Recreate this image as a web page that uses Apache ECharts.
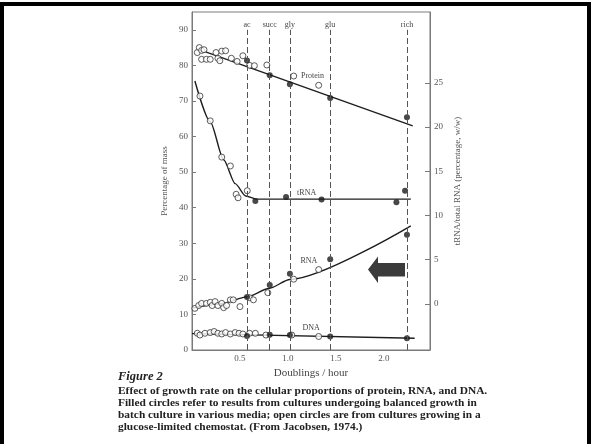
<!DOCTYPE html>
<html>
<head>
<meta charset="utf-8">
<script src="https://cdn.jsdelivr.net/npm/echarts@6/dist/echarts.min.js"></script>
<style>
  html, body { margin: 0; padding: 0; background: #fff; }
  #chart { width: 592px; height: 444px; }
</style>
</head>
<body>
<div id="chart"></div>
<script>
// growth media (dashed lines) and their doubling rates
const media = ['ac', 'succ', 'gly', 'glu', 'rich'];
const mediaRate = [0.573, 0.81, 1.02, 1.44, 2.24];

// axis tick values
const xTicks = [0.5, 1.0, 1.5, 2.0];
const leftTicks = [0, 10, 20, 30, 40, 50, 60, 70, 80, 90];
const rightTicks = [0, 5, 10, 15, 20, 25];

// protein, % of mass
const proteinOpen = [[0.055, 83.6], [0.076, 85.0], [0.10, 84.2], [0.125, 84.4], [0.10, 81.7], [0.15, 81.7],
  [0.19, 81.7], [0.25, 83.6], [0.27, 82.0], [0.29, 81.3], [0.31, 84.0], [0.35, 84.1], [0.41, 82.0],
  [0.47, 81.1], [0.53, 82.7], [0.60, 80.0], [0.65, 79.9], [0.78, 80.1], [1.06, 77.0], [1.32, 74.4]];
const proteinFilled = [81.4, 77.2, 74.7, 70.8, 65.4];
const proteinFit = [[0.12, 84.0], [2.30, 63.0]];

// tRNA / total RNA, % (right axis)
const trnaOpen = [[0.083, 23.5], [0.19, 20.7], [0.31, 16.6], [0.40, 15.6], [0.46, 12.4], [0.48, 12.0], [0.576, 12.8]];
const trnaFilled = [[0.66, 11.65], [0.98, 12.1], [1.35, 11.8], [2.13, 11.5], [2.22, 12.8]];
const trnaFit = [[0.03, 25.2], [0.19, 20.6], [0.33, 16.3], [0.45, 13.6], [0.56, 12.2], [0.68, 11.85],
  [1.2, 11.85], [2.28, 11.85]];

// RNA, % of mass
const rnaOpen = [[0.03, 11.7], [0.07, 12.5], [0.10, 13.1], [0.15, 13.1], [0.19, 13.4], [0.21, 12.5], [0.24, 13.6],
  [0.27, 12.5], [0.31, 13.1], [0.33, 11.9], [0.36, 12.5], [0.40, 14.1], [0.43, 14.1], [0.50, 12.2],
  [0.60, 14.7], [0.64, 14.1], [0.79, 16.1], [1.06, 19.9], [1.32, 22.6]];
const rnaFilled = [14.9, 18.3, 21.4, 25.5, 32.4];
const rnaFit = [[0.0, 11.8], [0.3, 13.0], [0.58, 15.0], [0.8, 17.3], [1.02, 19.8], [2.28, 34.9]];

// DNA, % of mass
const dnaOpen = [[0.055, 4.7], [0.083, 4.2], [0.135, 4.7], [0.19, 4.9], [0.23, 5.2], [0.27, 4.7], [0.31, 4.5],
  [0.35, 4.9], [0.40, 4.5], [0.45, 4.9], [0.49, 4.7], [0.53, 4.5], [0.60, 4.7], [0.66, 4.7], [0.77, 4.2],
  [1.04, 4.2], [1.32, 3.8]];
const dnaFilled = [3.9, 4.3, 4.2, 3.8, 3.3];
const dnaFit = [[0.0, 4.6], [2.32, 3.3]];

const caption = [
  'Effect of growth rate on the cellular proportions of protein, RNA, and DNA.',
  'Filled circles refer to results from cultures undergoing balanced growth in',
  'batch culture in various media; open circles are from cultures growing in a',
  'glucose-limited chemostat. (From Jacobsen, 1974.)'
];

const serif = 'Liberation Serif';
const ink = '#1e1e1e';
const axisGray = '#7a7a7a';
const textGray = '#555';

const withRate = vals => vals.map((v, i) => [mediaRate[i], v]);

const openStyle = { color: '#fff', borderColor: '#333', borderWidth: 1 };
const filledStyle = { color: '#1a1a1a' };

function fitLine(data, yAxisIndex, label, at) {
  return {
    type: 'line', data: data, yAxisIndex: yAxisIndex, symbol: 'none', smooth: 0.25, smoothMonotone: 'x',
    lineStyle: { color: ink, width: 1.4 }, silent: true, z: 3,
    markPoint: {
      symbol: 'circle', symbolSize: 1, itemStyle: { color: 'rgba(0,0,0,0)' },
      label: { show: true, position: 'right', distance: 0, formatter: label,
        fontFamily: serif, fontSize: 8, color: '#444' },
      data: [{ coord: at }]
    }
  };
}

function dots(data, yAxisIndex, style) {
  return { type: 'scatter', data: data, yAxisIndex: yAxisIndex, symbol: 'circle', symbolSize: 6,
    itemStyle: style, z: 4, silent: true };
}

const chart = echarts.init(document.getElementById('chart'));

chart.setOption({
  animation: false,
  backgroundColor: '#fff',
  grid: { left: 192, top: 12, width: 238, height: 338, show: true, borderColor: axisGray, borderWidth: 1 },
  xAxis: {
    type: 'value', min: 0, max: 2.48,
    name: 'Doublings / hour', nameLocation: 'middle', nameGap: 12,
    nameTextStyle: { fontFamily: serif, fontSize: 11, color: '#444' },
    axisLine: { lineStyle: { color: axisGray } },
    axisTick: { show: false },
    splitLine: { show: false },
    axisLabel: { customValues: xTicks, formatter: v => v.toFixed(1), margin: 4,
      fontFamily: serif, fontSize: 9, color: textGray }
  },
  yAxis: [
    {
      type: 'value', min: 0, max: 95,
      name: 'Percentage of mass', nameLocation: 'middle', nameGap: 23, nameRotate: 90,
      nameTextStyle: { fontFamily: serif, fontSize: 9, color: textGray },
      axisLine: { show: true, lineStyle: { color: axisGray } },
      axisTick: { show: true, inside: true, length: 4, customValues: leftTicks, lineStyle: { color: axisGray } },
      splitLine: { show: false },
      axisLabel: { customValues: leftTicks, margin: 4, fontFamily: serif, fontSize: 9, color: textGray }
    },
    {
      type: 'value', position: 'right', min: -5.2, max: 33,
      name: 'tRNA/total RNA (percentage, w/w)', nameLocation: 'middle', nameGap: 23, nameRotate: 90,
      nameTextStyle: { fontFamily: serif, fontSize: 9, color: textGray },
      axisLine: { show: true, lineStyle: { color: axisGray } },
      axisTick: { show: true, inside: true, length: 5, customValues: rightTicks, lineStyle: { color: axisGray } },
      splitLine: { show: false },
      axisLabel: { customValues: rightTicks, margin: 4, fontFamily: serif, fontSize: 9, color: textGray }
    }
  ],
  series: [
    {
      type: 'line', data: [], silent: true,
      markLine: {
        silent: true, symbol: ['none', 'none'],
        lineStyle: { color: '#555', width: 1, type: [6, 3] },
        label: { show: true, position: 'end', distance: 1, formatter: '{b}',
          fontFamily: serif, fontSize: 8, color: '#444' },
        data: media.map((m, i) => [{ name: m, coord: [mediaRate[i], 0] }, { coord: [mediaRate[i], 90] }])
      }
    },
    fitLine(proteinFit, 0, 'Protein', [1.13, 77.0]),
    fitLine(trnaFit, 1, 'tRNA', [1.09, 12.6]),
    fitLine(rnaFit, 0, 'RNA', [1.125, 25.1]),
    fitLine(dnaFit, 0, 'DNA', [1.145, 6.3]),
    dots(proteinOpen, 0, openStyle),
    dots(withRate(proteinFilled), 0, filledStyle),
    dots(trnaOpen, 1, openStyle),
    dots(trnaFilled, 1, filledStyle),
    dots(rnaOpen, 0, openStyle),
    dots(withRate(rnaFilled), 0, filledStyle),
    dots(dnaOpen, 0, openStyle),
    dots(withRate(dnaFilled), 0, filledStyle)
  ],
  graphic: [
    // slide frame
    { type: 'rect', shape: { x: 2, y: 4, width: 587, height: 460 },
      style: { fill: null, stroke: '#000', lineWidth: 4 }, silent: true },
    // pointer arrow
    { type: 'polygon', silent: true, z: 10,
      shape: { points: [[368, 269.5], [378, 256.5], [378, 263], [405, 263], [405, 276.5], [378, 276.5], [378, 283]] },
      style: { fill: '#3b3b3b' } },
    { type: 'text', left: 118, top: 370,
      style: { text: 'Figure 2', fontFamily: serif, fontStyle: 'italic', fontWeight: 'bold', fontSize: 12.5, fill: '#222' } }
  ].concat(caption.map((line, i) => ({
    type: 'text', left: 118, top: 386 + i * 12,
    style: { text: line, fontFamily: serif, fontWeight: 'bold', fontSize: 11.4, fill: '#222' }
  })))
});
</script>
</body>
</html>
